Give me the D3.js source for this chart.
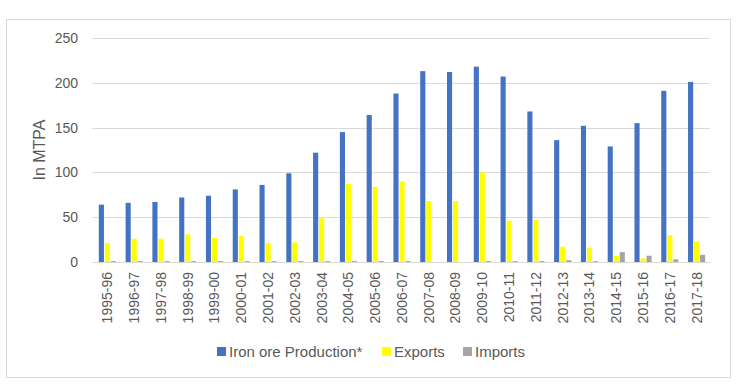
<!DOCTYPE html>
<html>
<head>
<meta charset="utf-8">
<script src="https://cdn.jsdelivr.net/npm/d3@7"></script>
<style>
  body { margin: 0; background: #fff; }
  text { font-family: "Liberation Sans", "Open Sans", sans-serif; fill: #595959; }
</style>
</head>
<body>
<div id="chart"></div>
<script>
"use strict"
// Data (MTPA)
var years = ["1995-96","1996-97","1997-98","1998-99","1999-00","2000-01","2001-02","2002-03",
  "2003-04","2004-05","2005-06","2006-07","2007-08","2008-09","2009-10","2010-11","2011-12",
  "2012-13","2013-14","2014-15","2015-16","2016-17","2017-18"]
var production = [64,66,67,72,74,81,86,99,122,145,164,188,213,212,218,207,168,136,152,129,155,191,201]
var exports = [21,26,26,31,27,29,21,22,50,87,84,90,68,68,100,46,47,17,16,7,4,30,23]
var imports = [1,1,1,1,1,1,1,1,1,1,1,1,0,0,1,1,1,2,1,11,7,3,8]
var seriesNames = ["Iron ore Production*","Exports","Imports"]
var seriesColors = ["#4472C4","#FFFF00","#A5A5A5"]
var yTicks = [0,50,100,150,200,250]

var width = 743, height = 390
var plot = {left: 94, right: 710, top: 38, bottom: 262}

var svg = d3.select("#chart").append("svg")
  .attr("width", width).attr("height", height)

// chart border
svg.append("rect")
  .attr("x", 6.5).attr("y", 19.5)
  .attr("width", 724).attr("height", 358)
  .attr("fill", "none").attr("stroke", "#d9d9d9").attr("stroke-width", 1)

var x = d3.scaleBand().domain(years).range([plot.left, plot.right])
  .paddingInner(0.36).paddingOuter(0.18)
var xs = d3.scaleBand().domain(seriesNames).range([0, x.bandwidth()]).paddingInner(0.15)
var y = d3.scaleLinear().domain([0, 250]).range([plot.bottom, plot.top])

// gridlines
svg.append("g").selectAll("line").data(yTicks).enter().append("line")
  .attr("x1", plot.left - 2).attr("x2", plot.right)
  .attr("y1", function(d){ return Math.round(y(d)) + 0.5 })
  .attr("y2", function(d){ return Math.round(y(d)) + 0.5 })
  .attr("stroke", "#d9d9d9").attr("stroke-width", 1)

// y axis labels
var yAxis = d3.axisLeft(y).tickValues(yTicks).tickSize(0).tickPadding(16)
var gy = svg.append("g").attr("transform", "translate(" + plot.left + ",0)").call(yAxis)
gy.select(".domain").remove()
gy.selectAll("text").style("font-size", "14px").attr("fill", "#595959")

// bars
var series = [production, exports, imports]
var groups = svg.append("g").selectAll("g").data(series).enter().append("g")
  .attr("fill", function(d, i){ return seriesColors[i] })
groups.each(function(vals, si) {
  d3.select(this).selectAll("rect").data(vals).enter().append("rect")
    .attr("x", function(d, i){ return x(years[i]) + xs(seriesNames[si]) })
    .attr("width", xs.bandwidth())
    .attr("y", function(d){ return y(d) })
    .attr("height", function(d){ return y(0) - y(d) })
})

// x axis
var xAxis = d3.axisBottom(x).tickSize(0).tickPadding(0)
var gx = svg.append("g").attr("transform", "translate(0," + plot.bottom + ")").call(xAxis)
gx.select(".domain").remove()
gx.selectAll("text")
  .style("font-size", "14px").attr("fill", "#595959")
  .attr("transform", "rotate(-90)")
  .attr("x", -10).attr("y", 0).attr("dy", "0.35em")
  .style("text-anchor", "end")

// y axis title
svg.append("text")
  .attr("transform", "translate(45," + ((plot.top + plot.bottom) / 2) + ") rotate(-90)")
  .style("text-anchor", "middle").style("font-size", "16px")
  .text("In MTPA")

// legend
var legendX = [217, 382, 463]
var legend = svg.append("g").selectAll("g").data(seriesNames).enter().append("g")
  .attr("transform", function(d, i){ return "translate(" + legendX[i] + ",347)" })
legend.append("rect").attr("width", 9).attr("height", 9)
  .attr("fill", function(d, i){ return seriesColors[i] })
legend.append("text").attr("x", 12).attr("y", 10)
  .style("font-size", "15px").text(function(d){ return d })
</script>
</body>
</html>
